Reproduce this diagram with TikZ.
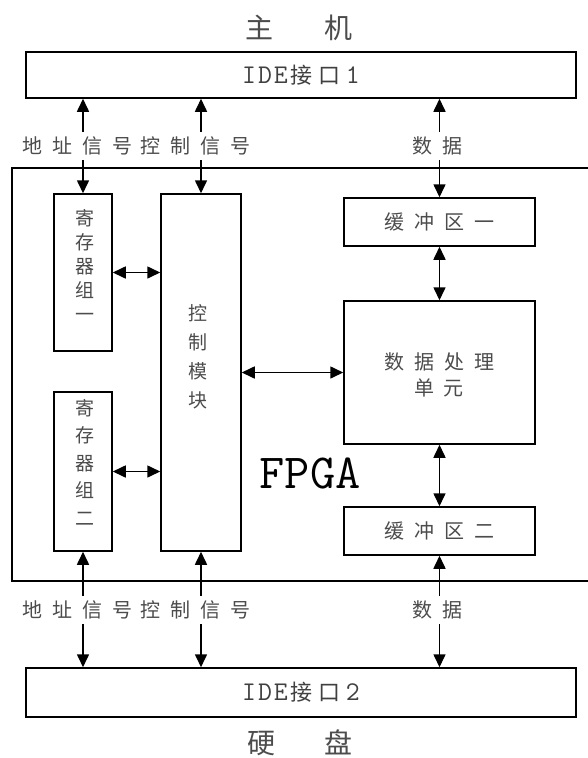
\documentclass[tikz,border=0pt]{standalone}
\usepackage{fontspec}
\newfontfamily\cjk{Noto Sans CJK SC}
\usetikzlibrary{arrows.meta}
\newcommand\gp{\hspace{10pt}}
\newcommand\idetext[1]{{\ttfamily\fontsize{27}{28}\selectfont I\hspace{2pt}D\hspace{2pt}E}\hspace{3pt}{\cjk\fontsize{22}{24}\selectfont 接\hspace{6pt}口}\hspace{5pt}{\ttfamily\fontsize{27}{28}\selectfont #1}}
\begin{document}
\begin{tikzpicture}[x=1pt,y=-1pt,
  box/.style={draw, line width=1.5pt, rectangle, inner sep=0pt},
  tip/.tip={Triangle[length=13pt,width=12pt]},
  arr/.style={line width=1.6pt, tip-tip},
  cjkt/.style={text=black!70, font=\cjk\fontsize{20}{26}\selectfont},
  lbl/.style={cjkt, fill=white, inner xsep=1pt, inner ysep=5pt},
  vtext/.style={text=black!70, align=center, inner sep=0pt}]
\fill[white] (0,0) rectangle (588,758);
\useasboundingbox (0,0) rectangle (588,758);

% titles
\node[text=black!70, font=\cjk\fontsize{28}{30}\selectfont] (host) at (299,28) {主\hspace{52pt}机};
\node[text=black!70, font=\cjk\fontsize{28}{30}\selectfont] (disk) at (300,743) {硬\hspace{50pt}盘};

% outer FPGA box
\draw[line width=1.5pt] (592,168) -- (12,168) -- (12,581) -- (592,581);
\node[font=\ttfamily\fontsize{49}{49}\selectfont, anchor=base, inner sep=0pt] (fpga) at (310,488) {FPGA};

% interfaces
\node[box, minimum width=550pt, minimum height=46pt, text=black!75] (ide1) at (301,75) {\idetext{1}};
\node[box, minimum width=550pt, minimum height=49pt, text=black!75] (ide2) at (301,692.5) {\idetext{2}};

% inner blocks
\node[box, minimum width=58pt, minimum height=157pt] (reg1) at (83,272.5) {};
\node[box, minimum width=80pt, minimum height=357pt] (ctrl) at (201,372.5) {};
\node[box, minimum width=58pt, minimum height=159pt] (reg2) at (83,471.5) {};
\node[box, minimum width=191pt, minimum height=48pt, cjkt] (buf1) at (439.5,222) {缓\gp 冲\gp 区\gp 一};
\node[box, minimum width=191pt, minimum height=143pt] (dpu) at (439.5,372.5) {};
\node[box, minimum width=191pt, minimum height=48pt, cjkt] (buf2) at (439.5,531) {缓\gp 冲\gp 区\gp 二};

% block texts
\node[vtext, font=\cjk\fontsize{19}{24}\selectfont] (reg1t) at (85,265) {寄\\存\\器\\组\\一};
\node[vtext, font=\cjk\fontsize{19}{27.5}\selectfont] (reg2t) at (85,462) {寄\\存\\器\\组\\二};
\node[vtext, font=\cjk\fontsize{19}{29}\selectfont] (ctrlt) at (198,356.5) {控\\制\\模\\块};
\node[vtext, font=\cjk\fontsize{20}{26}\selectfont] (dput) at (439,375) {数\gp 据\gp 处\gp 理\\单\gp 元};

% internal connectors
\draw[arr] (reg1.east) -- (reg1.east -| ctrl.west);
\draw[arr] (reg2.east) -- (reg2.east -| ctrl.west);
\draw[arr] (ctrl.east) -- (dpu.west);
\draw[arr] (buf1.south) -- (dpu.north);
\draw[arr] (dpu.south) -- (buf2.north);

% external connectors
\draw[arr] (reg1.north |- ide1.south) -- (reg1.north);
\draw[arr] (ctrl.north |- ide1.south) -- (ctrl.north);
\draw[arr] (buf1.north |- ide1.south) -- (buf1.north);
\draw[arr] (reg2.south) -- (reg2.south |- ide2.north);
\draw[arr] (ctrl.south) -- (ctrl.south |- ide2.north);
\draw[arr] (buf2.south) -- (buf2.south |- ide2.north);

% signal labels
\node[lbl] (addr1) at (77.5,146) {地\gp 址\gp 信\gp 号};
\node[lbl] (ctl1) at (195,146) {控\gp 制\gp 信\gp 号};
\node[lbl] (data1) at (437.5,146) {数\gp 据};
\node[lbl] (addr2) at (77.5,610) {地\gp 址\gp 信\gp 号};
\node[lbl] (ctl2) at (195,610) {控\gp 制\gp 信\gp 号};
\node[lbl] (data2) at (437.5,610) {数\gp 据};
\end{tikzpicture}
\end{document}
